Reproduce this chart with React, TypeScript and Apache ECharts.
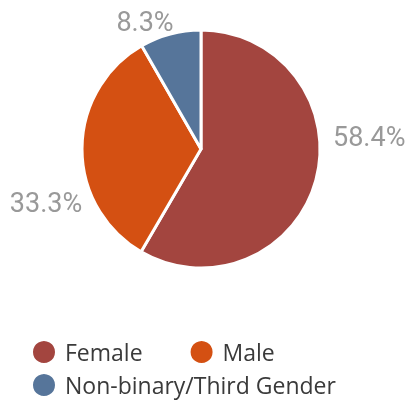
import React, { useEffect, useRef } from "react";
import * as echarts from "echarts";

const categories = ["Female", "Male", "Non-binary/Third Gender"];
const values = [58.4, 33.3, 8.3];
const colors = ["#A3453F", "#D45012", "#56759A"];

export default function App() {
  const ref = useRef<HTMLDivElement>(null);
  useEffect(() => {
    if (!ref.current) return;
    const chart = echarts.init(ref.current, null, { renderer: "svg" });
    const labelSpots = [
      { x: 333, y: 137, align: "left" },
      { x: 46, y: 203, align: "center" },
      { x: 145, y: 22, align: "center" },
    ];
    const legendText = {
      fontFamily: "Open Sans",
      fontSize: 23,
      lineHeight: 23,
      color: "#3a3a3a",
      padding: [0, 0, 0, 4],
    };
    chart.setOption({
      animation: false,
      legend: [
        {
          data: [categories[0], categories[1]],
          left: 31,
          top: 339,
          padding: 0,
          itemWidth: 24,
          itemHeight: 24,
          itemGap: 46,
          icon: "circle",
          textStyle: legendText,
        },
        {
          data: [categories[2]],
          left: 31,
          top: 372,
          padding: 0,
          itemWidth: 24,
          itemHeight: 24,
          icon: "circle",
          textStyle: legendText,
        },
      ],
      series: [
        {
          type: "pie",
          center: [201, 149],
          radius: 119,
          startAngle: 90,
          clockwise: true,
          itemStyle: { borderColor: "#ffffff", borderWidth: 3 },
          label: {
            show: true,
            position: "outside",
            formatter: (p: any) => p.value.toFixed(1) + "%",
            fontFamily: "Roboto",
            fontSize: 27,
            color: "#999999",
            overflow: "none",
            alignTo: "none",
          },
          labelLine: { show: false },
          labelLayout: (params: any) => {
            const s = labelSpots[params.dataIndex];
            return { x: s.x, y: s.y, align: s.align, verticalAlign: "middle" };
          },
          emphasis: { disabled: true },
          data: categories.map((name, i) => ({
            name,
            value: values[i],
            itemStyle: { color: colors[i] },
          })),
        },
      ],
    });
    return () => chart.dispose();
  }, []);
  return (
    <div
      ref={ref}
      style={{ position: "fixed", left: 0, top: 0, width: 412, height: 401 }}
    />
  );
}
